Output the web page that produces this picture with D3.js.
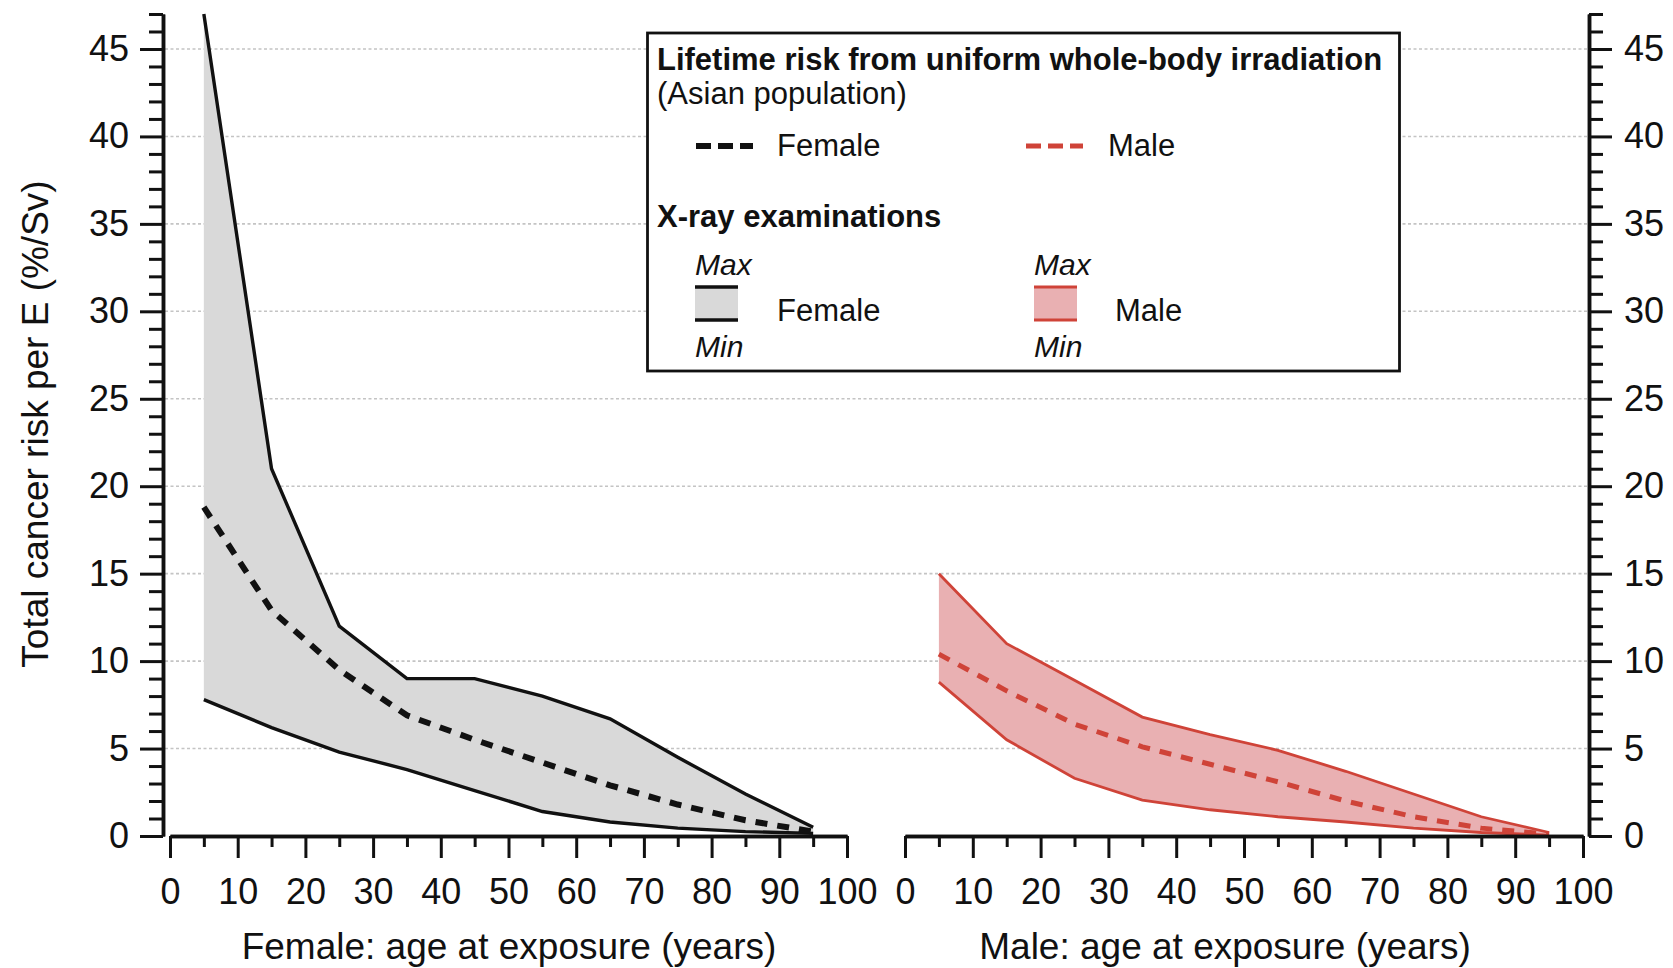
<!DOCTYPE html>
<html>
<head>
<meta charset="utf-8">
<script src="https://cdn.jsdelivr.net/npm/d3@7"></script>
<style>
  body { margin: 0; background: #fff; }
  text { font-family: "Liberation Sans", Arial, Helvetica, sans-serif; fill: #111; }
</style>
</head>
<body>
<svg id="chart" width="1673" height="968"></svg>
<script>
// ---------------- data ----------------
const ages = [5, 15, 25, 35, 45, 55, 65, 75, 85, 95];

const femaleMax  = [47.0, 21.0, 12.0, 9.0, 9.0, 8.0, 6.7, 4.5, 2.4, 0.5];
const femaleMean = [18.8, 12.9, 9.5, 6.9, 5.5, 4.2, 2.9, 1.8, 0.9, 0.25];
const femaleMin  = [7.8, 6.2, 4.8, 3.8, 2.6, 1.4, 0.8, 0.45, 0.25, 0.15];

const maleMax  = [15.0, 11.0, 8.9, 6.8, 5.8, 4.9, 3.7, 2.4, 1.1, 0.2];
const maleMean = [10.4, 8.3, 6.4, 5.1, 4.1, 3.1, 2.0, 1.1, 0.45, 0.1];
const maleMin  = [8.8, 5.5, 3.3, 2.05, 1.5, 1.1, 0.8, 0.45, 0.2, 0.05];

const xMajorTicks = [0, 10, 20, 30, 40, 50, 60, 70, 80, 90, 100];
const xMinorTicks = [5, 15, 25, 35, 45, 55, 65, 75, 85, 95];
const yMajorTicks = [0, 5, 10, 15, 20, 25, 30, 35, 40, 45];
const yMinorTicks = d3.range(1, 48).filter(v => v % 5 !== 0);
const gridValues = [5, 10, 15, 20, 25, 30, 35, 40, 45];

const yTitle = "Total cancer risk per E (%/Sv)";
const femaleXTitle = "Female: age at exposure (years)";
const maleXTitle = "Male: age at exposure (years)";
const legendTitle1 = "Lifetime risk from uniform whole-body irradiation";
const legendSub1 = "(Asian population)";
const legendTitle2 = "X-ray examinations";

// ---------------- setup ----------------
const svg = d3.select("#chart");
const y = d3.scaleLinear().domain([0, 47]).range([836, 14]);
const xF = d3.scaleLinear().domain([0, 100]).range([170, 847]);
const xM = d3.scaleLinear().domain([0, 100]).range([905, 1583]);
const leftAxisX = 163, rightAxisX = 1589, xAxisY = 836;

const BLACK = "#111";
const RED = "#cf4338";
const GRAY_FILL = "#d9d9d9";
const PINK_FILL = "#e9b0b2";

// gridlines
svg.append("g").selectAll("line").data(gridValues).join("line")
  .attr("x1", leftAxisX + 2).attr("x2", rightAxisX - 2)
  .attr("y1", d => y(d)).attr("y2", d => y(d))
  .attr("stroke", "#c4c4c4").attr("stroke-width", 1.6)
  .attr("stroke-dasharray", "3,2.5");

// ---------------- bands ----------------
function drawPanel(x, maxV, meanV, minV, lineColor, fillColor, solidW, dashW) {
  const rows = ages.map((a, i) => ({ age: a, max: maxV[i], mean: meanV[i], min: minV[i] }));
  const g = svg.append("g");
  g.append("path").datum(rows)
    .attr("d", d3.area().x(d => x(d.age)).y0(d => y(d.min)).y1(d => y(d.max)))
    .attr("fill", fillColor);
  const line = k => d3.line().x(d => x(d.age)).y(d => y(d[k]));
  g.append("path").datum(rows).attr("d", line("max"))
    .attr("fill", "none").attr("stroke", lineColor).attr("stroke-width", solidW);
  g.append("path").datum(rows).attr("d", line("min"))
    .attr("fill", "none").attr("stroke", lineColor).attr("stroke-width", solidW);
  g.append("path").datum(rows).attr("d", line("mean"))
    .attr("fill", "none").attr("stroke", lineColor).attr("stroke-width", dashW)
    .attr("stroke-dasharray", "12,10");
}
drawPanel(xF, femaleMax, femaleMean, femaleMin, BLACK, GRAY_FILL, 3.4, 6);
drawPanel(xM, maleMax, maleMean, maleMin, RED, PINK_FILL, 2.8, 5);

// ---------------- axes ----------------
function styleAxis(g) {
  g.selectAll("path.domain").attr("stroke", BLACK).attr("stroke-width", 3.5);
  g.selectAll(".tick line").attr("stroke", BLACK).attr("stroke-width", 3);
  g.selectAll(".tick text").attr("font-size", 36).attr("fill", "#111")
    .attr("font-family", '"Liberation Sans", Arial, sans-serif');
}

// left y axis
svg.append("g").attr("transform", `translate(${leftAxisX},0)`)
  .call(d3.axisLeft(y).tickValues(yMinorTicks).tickSize(14).tickSizeOuter(0).tickFormat(""))
  .call(styleAxis);
svg.append("g").attr("transform", `translate(${leftAxisX},0)`)
  .call(d3.axisLeft(y).tickValues(yMajorTicks).tickSize(23).tickPadding(11).tickSizeOuter(0))
  .call(styleAxis);

// right y axis
svg.append("g").attr("transform", `translate(${rightAxisX},0)`)
  .call(d3.axisRight(y).tickValues(yMinorTicks).tickSize(14).tickSizeOuter(0).tickFormat(""))
  .call(styleAxis);
svg.append("g").attr("transform", `translate(${rightAxisX},0)`)
  .call(d3.axisRight(y).tickValues(yMajorTicks).tickSize(23).tickPadding(12).tickSizeOuter(0))
  .call(styleAxis);

// x axes
[xF, xM].forEach(x => {
  svg.append("g").attr("transform", `translate(0,${xAxisY})`)
    .call(d3.axisBottom(x).tickValues(xMinorTicks).tickSize(11).tickSizeOuter(0).tickFormat(""))
    .call(styleAxis);
  svg.append("g").attr("transform", `translate(0,${xAxisY})`)
    .call(d3.axisBottom(x).tickValues(xMajorTicks).tickSize(22).tickPadding(20).tickSizeOuter(0))
    .call(styleAxis);
});

// axis titles
svg.append("text").attr("x", 509).attr("y", 959).attr("text-anchor", "middle")
  .attr("font-size", 37).text(femaleXTitle);
svg.append("text").attr("x", 1225).attr("y", 959).attr("text-anchor", "middle")
  .attr("font-size", 37).text(maleXTitle);
svg.append("text").attr("transform", "translate(48,424) rotate(-90)")
  .attr("text-anchor", "middle").attr("font-size", 37).text(yTitle);

// ---------------- legend ----------------
const lg = svg.append("g");
lg.append("rect").attr("x", 647.5).attr("y", 33).attr("width", 752).attr("height", 338)
  .attr("fill", "#fff").attr("stroke", BLACK).attr("stroke-width", 2.8);
lg.append("text").attr("x", 657).attr("y", 70).attr("font-size", 31).attr("font-weight", "bold")
  .text(legendTitle1);
lg.append("text").attr("x", 657).attr("y", 104).attr("font-size", 31).text(legendSub1);

// dashed samples
[[696, BLACK, "Female", 777, 6], [1026, RED, "Male", 1108, 5]].forEach(([lx, c, lab, tx, w]) => {
  lg.append("line").attr("x1", lx).attr("x2", lx + 57).attr("y1", 146).attr("y2", 146)
    .attr("stroke", c).attr("stroke-width", w).attr("stroke-dasharray", "15,7");
  lg.append("text").attr("x", tx).attr("y", 156).attr("font-size", 31).text(lab);
});

lg.append("text").attr("x", 657).attr("y", 227).attr("font-size", 31).attr("font-weight", "bold")
  .text(legendTitle2);

// band swatches
[[695, BLACK, GRAY_FILL, "Female", 777, 3.4], [1034, RED, PINK_FILL, "Male", 1115, 3]].forEach(([sx, c, f, lab, tx, w]) => {
  lg.append("text").attr("x", sx).attr("y", 275).attr("font-size", 30).attr("font-style", "italic").text("Max");
  lg.append("rect").attr("x", sx).attr("y", 287).attr("width", 43).attr("height", 33).attr("fill", f);
  lg.append("line").attr("x1", sx).attr("x2", sx + 43).attr("y1", 287).attr("y2", 287)
    .attr("stroke", c).attr("stroke-width", w);
  lg.append("line").attr("x1", sx).attr("x2", sx + 43).attr("y1", 320).attr("y2", 320)
    .attr("stroke", c).attr("stroke-width", w);
  lg.append("text").attr("x", tx).attr("y", 321).attr("font-size", 31).text(lab);
  lg.append("text").attr("x", sx).attr("y", 357).attr("font-size", 30).attr("font-style", "italic").text("Min");
});
</script>
</body>
</html>
